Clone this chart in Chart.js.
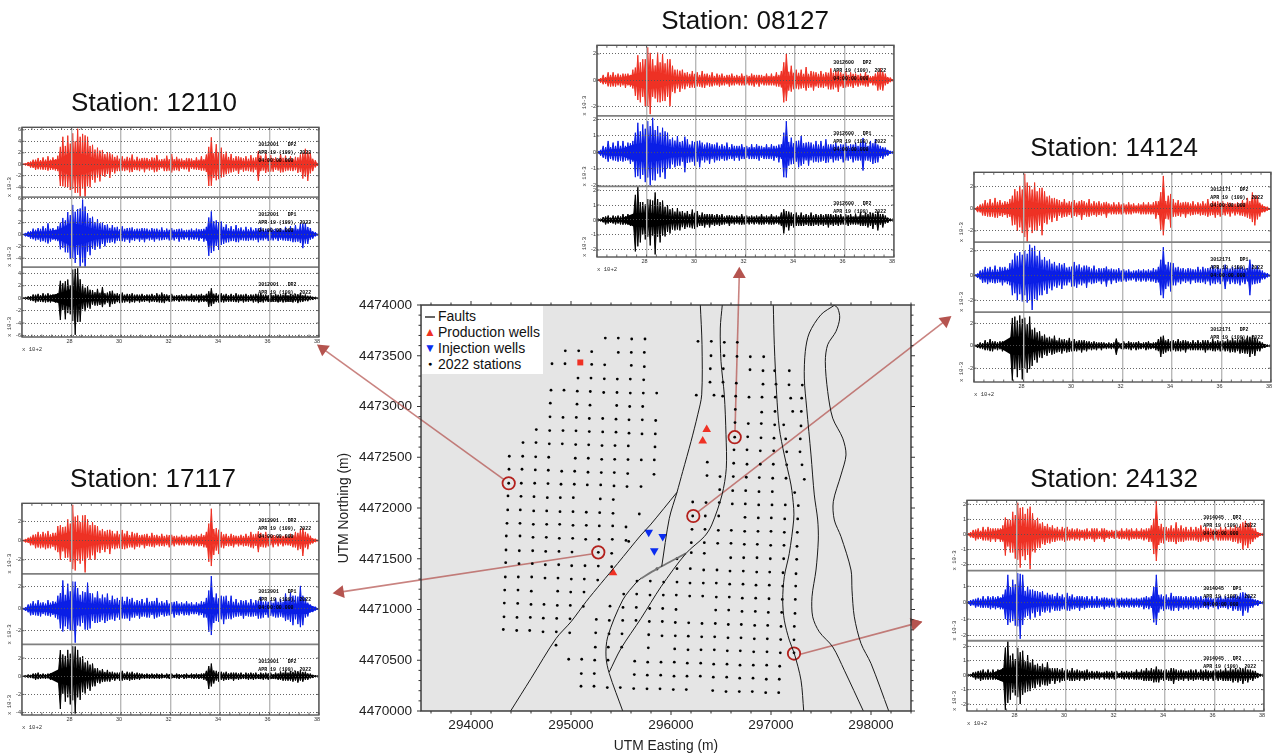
<!DOCTYPE html>
<html>
<head>
<meta charset="utf-8">
<script src="https://cdn.jsdelivr.net/npm/chart.js@4"></script>
<style>
  html, body { margin: 0; padding: 0; background: #fff; }
  #page { position: relative; width: 1277px; height: 754px; overflow: hidden; font-family: "Liberation Sans", sans-serif; color: #111; }
  canvas { position: absolute; }
  .title { position: absolute; font-size: 26px; white-space: nowrap; transform: translate(-50%, -50%); }
  #legend { position: absolute; left: 422px; top: 306px; width: 121px; height: 68px; background: #fff; font-size: 14px; line-height: 16px; }
  #legend div { position: absolute; left: 16px; white-space: nowrap; }
  #legend i { position: absolute; left: -16px; top: 0; width: 16px; height: 16px; font-style: normal; font-size: 12px; text-align: center; }
</style>
</head>
<body>
<div id="page">
  <canvas id="map" width="1277" height="754" style="left:0;top:0;filter:blur(0.3px)"></canvas>
  <div id="legend"></div>
</div>
<script>
// ---- seismogram data (x 10-3), one row per 100 s
const sampleTimes = [
  26.05,26.15,26.25,26.35,26.45,26.55,26.65,26.75,26.85,26.95,
  27.05,27.15,27.25,27.35,27.45,27.55,27.65,27.75,27.85,27.95,
  28.05,28.15,28.25,28.35,28.45,28.55,28.65,28.75,28.85,28.95,
  29.05,29.15,29.25,29.35,29.45,29.55,29.65,29.75,29.85,29.95,
  30.05,30.15,30.25,30.35,30.45,30.55,30.65,30.75,30.85,30.95,
  31.05,31.15,31.25,31.35,31.45,31.55,31.65,31.75,31.85,31.95,
  32.05,32.15,32.25,32.35,32.45,32.55,32.65,32.75,32.85,32.95,
  33.05,33.15,33.25,33.35,33.45,33.55,33.65,33.75,33.85,33.95,
  34.05,34.15,34.25,34.35,34.45,34.55,34.65,34.75,34.85,34.95,
  35.05,35.15,35.25,35.35,35.45,35.55,35.65,35.75,35.85,35.95,
  36.05,36.15,36.25,36.35,36.45,36.55,36.65,36.75,36.85,36.95,
  37.05,37.15,37.25,37.35,37.45,37.55,37.65,37.75,37.85,37.95
];

const red12110 = [
  0.1,-0.2,0.4,-0.6,0.8,-1,1.1,-0.9,1.2,-1,
  1.4,-1,1.2,-1.1,1.5,-3.8,4.8,-4,5,-4.5,
  5.4,-5,6.2,-6,5.3,-6.3,4.8,-4,3.4,-3.2,
  2.9,-3,2.5,-2.2,2.1,-2.4,1.7,-1.6,1.5,-1.2,
  1.4,-1.2,1.3,-1.4,1.7,-1,1.3,-1.2,1.1,-1.4,
  1.1,-1.1,1.2,-1.4,1.6,-1,0.9,-1.2,1.5,-1.1,
  1.8,-1.1,1.3,-1.2,1,-0.9,1.1,-1.3,1,-0.9,
  1.2,-1,1.4,-1.1,1.7,-3.8,4.7,-2.4,3.5,-2.6,
  2.9,-2.2,2.2,-1.6,1.8,-1.3,1.4,-1.7,1.2,-1.3,
  1.4,-1.2,1.6,-1.4,1.2,-2.9,1.5,-1.1,1.9,-1.3,
  1.6,-1.3,1.2,-1.1,1.8,-1.4,1.5,-1.1,1.4,-1.2,
  1.3,-1.5,1.7,-2.5,2.7,-2.9,2,-1.2,0.7,-0.3
];
const blue12110 = [
  0.1,-0.3,0.5,-0.7,1,-1,1.1,-1.2,1.4,-1.3,
  1.9,-1.2,1.1,-1,1.4,-2.5,2.8,-3,3.8,-4.1,
  5,-4.8,4.3,-5.5,5.9,-5.9,3.6,-3.5,3,-2.6,
  2.6,-2.4,2,-2,1.7,-1.4,1.6,-1.5,1.3,-1.1,
  1.4,-1.2,1.1,-1.4,1.2,-1.1,1,-1.2,1.1,-1.3,
  1,-1,1.1,-1.2,1,-1,1.2,-0.9,1,-1,
  1.1,-1,0.9,-1.2,1,-0.9,0.8,-1,1,-0.9,
  1,-1.1,0.9,-1.2,1.3,-3.6,3.9,-2.8,2.4,-2.6,
  2.2,-1.6,1.7,-1.3,1.4,-1.1,1.6,-1.3,1.2,-1,
  1.3,-1.1,1.2,-1,1.1,-1.3,1.2,-1,1,-1.1,
  1.2,-1,1,-1.1,1.1,-1,1.3,-1.1,1.4,-1.3,
  1.6,-1.2,1.8,-2.3,1.9,-1.6,1.1,-0.7,0.4,-0.2
];
const black12110 = [
  0.1,-0.2,0.3,-0.4,0.6,-0.7,0.7,-0.6,0.8,-0.7,
  0.8,-0.7,0.6,-0.7,0.8,-3.5,2.4,-3.4,3,-2.6,
  4.6,-5.9,4.8,-3.8,2.2,-2.1,1.9,-1.7,1.3,-1.2,
  1.5,-1.1,1.8,-1,0.9,-1.4,1.2,-0.9,0.8,-0.8,
  0.9,-0.7,0.7,-0.8,0.8,-0.7,0.6,-0.7,0.7,-0.6,
  0.6,-0.7,0.7,-0.6,0.8,-0.7,0.9,-0.8,0.6,-0.6,
  0.7,-0.5,0.5,-0.6,0.6,-0.5,0.6,-0.5,0.7,-0.6,
  0.6,-0.7,0.7,-0.6,0.7,-1.4,1.6,-0.9,0.8,-0.7,
  0.8,-0.7,0.7,-0.6,0.7,-0.6,0.8,-0.7,0.6,-0.7,
  0.7,-0.6,0.6,-0.7,0.7,-0.8,0.8,-0.7,0.6,-0.6,
  0.8,-0.6,0.7,-0.7,0.6,-0.7,0.8,-0.6,0.7,-0.7,
  0.7,-0.8,0.8,-0.6,0.6,-0.5,0.4,-0.3,0.2,-0.1
];
const red08127 = [
  0.1,-0.2,0.4,-0.3,0.6,-0.5,0.6,-0.5,0.5,-0.5,
  0.5,-0.6,0.5,-0.5,0.8,-1.2,1.9,-1.7,1.6,-2,
  2.5,-2.6,1.6,-1.4,2.1,-1.7,2,-1.6,1.6,-2,
  1.1,-1,0.8,-0.9,0.8,-0.7,0.6,-0.6,0.7,-0.6,
  0.6,-0.5,0.7,-0.6,0.5,-0.5,0.6,-0.4,0.5,-0.5,
  0.5,-0.4,0.4,-0.5,0.5,-0.4,0.4,-0.4,0.5,-0.4,
  0.4,-0.4,0.5,-0.5,0.4,-0.5,0.4,-0.4,0.5,-0.4,
  0.5,-0.4,0.6,-0.5,0.7,-1.7,2,-0.8,1.1,-0.7,
  0.8,-0.7,0.8,-0.6,1,-0.6,0.7,-0.8,0.6,-0.6,
  0.7,-0.6,0.6,-0.7,0.9,-0.7,0.7,-0.9,0.6,-0.6,
  0.7,-0.5,0.6,-0.6,0.5,-0.5,0.5,-0.4,0.6,-0.5,
  0.3,-0.4,0.5,-0.8,0.9,-0.8,0.5,-0.3,0.2,-0.1
];
const blue08127 = [
  0.1,-0.2,0.4,-0.4,0.7,-0.4,0.6,-0.5,0.7,-0.5,
  0.7,-0.5,0.6,-0.7,0.7,-1.5,1.8,-1.6,1.7,-1.8,
  1.9,-2,2.1,-1.7,1.6,-1.5,1.5,-1.6,1.2,-1,
  0.9,-0.9,1,-0.8,0.7,-1.2,0.8,-0.6,0.7,-0.8,
  0.7,-0.9,0.6,-0.6,0.6,-0.7,0.5,-0.6,0.6,-0.5,
  0.5,-0.5,0.6,-0.4,0.5,-0.5,0.4,-0.5,0.5,-0.4,
  0.4,-0.4,0.5,-0.4,0.5,-0.5,0.4,-0.4,0.5,-0.4,
  0.5,-0.5,0.4,-0.6,0.5,-1.5,1.9,-0.8,0.9,-0.7,
  0.7,-0.9,1,-0.7,0.6,-0.8,0.6,-0.6,0.7,-0.6,
  0.7,-0.5,0.8,-0.6,0.5,-0.6,0.6,-0.5,0.5,-0.6,
  0.6,-0.5,0.5,-0.6,0.6,-0.5,0.6,-1.1,0.6,-0.5,
  0.7,-0.7,0.8,-0.6,0.4,-0.4,0.3,-0.2,0.1,-0.1
];
const black08127 = [
  0.1,-0.1,0.2,-0.3,0.3,-0.2,0.3,-0.3,0.3,-0.3,
  0.4,-0.3,0.4,-0.4,0.4,-2.1,2.2,-1.5,1.2,-1.3,
  1.4,-1.7,1.3,-2.3,1.4,-1.5,1.3,-1.1,1,-0.9,
  0.8,-0.7,0.8,-0.7,0.6,-0.6,0.6,-0.5,0.7,-0.6,
  0.6,-0.4,0.5,-0.5,0.4,-0.5,0.4,-0.4,0.4,-0.4,
  0.4,-0.3,0.3,-0.4,0.3,-0.3,0.3,-0.3,0.4,-0.3,
  0.3,-0.3,0.3,-0.3,0.3,-0.3,0.4,-0.3,0.3,-0.3,
  0.4,-0.3,0.3,-0.3,0.5,-0.9,0.6,-0.7,0.5,-0.5,
  0.5,-0.4,0.5,-0.4,0.4,-0.4,0.5,-0.4,0.4,-0.4,
  0.4,-0.4,0.4,-0.5,0.4,-0.4,0.4,-0.4,0.4,-0.3,
  0.4,-0.4,0.4,-0.3,0.4,-0.3,0.5,-0.4,0.5,-0.5,
  0.5,-0.6,0.4,-0.7,0.4,-0.5,0.3,-0.2,0.1,-0.1
];
const red14124 = [
  0.1,-0.3,0.4,-0.6,0.8,-0.7,0.9,-0.7,1,-0.8,
  0.8,-0.7,0.7,-0.8,0.9,-1.5,1.8,-2,2.1,-2.2,
  3.2,-3,2.1,-2.2,2.4,-2,1.9,-2.4,1.6,-1.4,
  1.2,-1.2,1,-1.1,0.8,-0.8,0.9,-0.7,0.7,-0.8,
  0.8,-0.7,0.7,-1,0.7,-0.7,0.9,-0.6,0.7,-0.7,
  0.7,-0.6,0.6,-0.8,0.5,-0.5,0.6,-0.5,0.6,-0.5,
  0.5,-0.5,0.6,-0.5,0.5,-0.4,0.5,-0.5,0.6,-0.5,
  0.6,-0.5,0.6,-0.9,0.7,-1.9,3,-0.9,1.2,-1.7,
  0.9,-0.7,0.8,-0.7,0.6,-0.8,0.6,-0.6,0.7,-0.5,
  0.6,-0.6,0.7,-0.6,0.9,-0.6,0.7,-0.8,0.7,-0.7,
  0.7,-0.6,0.6,-0.7,0.5,-0.6,0.6,-0.6,0.8,-0.7,
  1,-0.9,1.5,-1.5,1.2,-0.7,0.4,-0.3,0.2,-0.1
];
const blue14124 = [
  0.1,-0.2,0.4,-0.6,0.7,-0.7,0.7,-0.6,0.8,-0.6,
  0.7,-0.8,0.7,-0.7,1,-1.6,1.8,-2,1.9,-2.1,
  2,-2.2,2.5,-2.8,2.4,-2,2,-1.6,1.5,-1.5,
  1.3,-1.2,1.1,-1,1,-1.1,1,-0.8,0.7,-0.9,
  1.1,-1,0.9,-0.8,0.8,-1,0.7,-0.7,0.8,-0.6,
  0.6,-0.7,0.6,-0.9,0.5,-0.7,0.5,-0.6,0.6,-0.5,
  0.5,-0.5,0.5,-0.4,0.4,-0.5,0.5,-0.5,0.5,-0.5,
  0.5,-0.5,0.6,-0.6,0.7,-1.6,2.3,-1.1,1.1,-1.3,
  1,-0.8,0.7,-0.7,0.6,-0.6,0.6,-0.7,0.5,-0.6,
  0.7,-0.6,0.7,-0.7,0.6,-0.8,0.8,-0.7,0.7,-0.7,
  0.6,-1.1,0.6,-0.7,0.7,-0.7,0.8,-0.8,0.7,-0.7,
  0.6,-1.6,0.9,-0.7,0.8,-0.6,0.4,-0.3,0.2,-0.1
];
const black14124 = [
  0.1,-0.2,0.3,-0.3,0.5,-0.4,0.6,-0.5,0.4,-0.4,
  0.4,-0.5,0.4,-0.4,0.4,-3.1,2.6,-2.8,2.7,-3,
  2.5,-2.4,2.6,-1.8,1.6,-1.5,1.3,-1.1,1,-0.9,
  0.8,-0.8,0.9,-0.6,0.7,-0.7,0.6,-0.6,0.7,-0.5,
  0.6,-0.5,0.5,-0.6,0.5,-0.5,0.4,-0.4,0.4,-0.4,
  0.3,-0.4,0.3,-0.3,0.3,-0.3,0.3,-0.8,0.3,-0.3,
  0.4,-0.3,0.4,-0.4,0.3,-0.4,0.4,-0.3,0.3,-0.4,
  0.4,-0.3,0.3,-0.4,0.6,-1,0.9,-0.6,0.6,-0.5,
  0.5,-0.5,0.6,-0.5,0.5,-0.6,0.4,-0.4,0.5,-0.4,
  0.5,-0.4,0.5,-0.6,0.5,-0.4,0.6,-0.5,0.5,-0.5,
  0.5,-0.5,0.6,-0.6,0.7,-0.6,0.6,-0.7,0.8,-0.7,
  0.9,-1,0.9,-0.9,0.6,-0.5,0.3,-0.2,0.1,-0.1
];
const red17117 = [
  0.1,-0.2,0.3,-0.5,0.6,-0.8,0.9,-0.8,0.9,-0.9,
  1,-0.8,0.8,-1,1.5,-2,1.4,-1.8,2.2,-2.2,
  3.7,-3.1,2.6,-2.4,2.6,-3.3,2.2,-2,1.9,-2,
  1.5,-1.3,1.2,-1.2,1.1,-1.4,1,-0.9,1,-0.8,
  1.1,-0.9,1,-0.7,0.9,-0.9,0.8,-0.7,0.6,-0.8,
  0.7,-0.6,0.8,-0.7,0.6,-0.6,0.7,-0.6,0.6,-0.7,
  0.6,-0.6,0.5,-0.5,0.6,-0.5,0.5,-0.5,0.6,-0.6,
  0.6,-0.6,0.7,-0.7,0.9,-2.2,3.3,-1.5,1.3,-1.4,
  0.9,-0.8,0.7,-0.6,0.7,-0.7,0.5,-0.6,0.6,-0.6,
  0.7,-0.6,0.9,-0.8,0.7,-1.2,0.8,-0.7,0.9,-0.6,
  0.6,-0.7,0.5,-0.6,0.5,-0.6,0.6,-0.5,0.7,-0.7,
  0.9,-1,1.1,-1.6,0.9,-0.9,0.5,-0.3,0.2,-0.1
];
const blue17117 = [
  0.1,-0.2,0.4,-0.6,0.7,-0.6,0.8,-0.7,0.6,-0.6,
  0.8,-0.7,0.7,-0.8,1.2,-1.8,2.6,-1.6,2.3,-2,
  2.5,-3.1,1.9,-1.6,1.6,-1.9,2.4,-1.8,1.4,-1.3,
  1.6,-1.2,1.3,-1.3,1.4,-1,1.2,-1.1,1,-1,
  1.1,-0.9,1.1,-1.1,1,-0.8,0.8,-0.9,0.9,-0.7,
  1,-0.8,0.7,-0.9,1,-0.7,0.7,-0.7,0.8,-0.6,
  0.6,-0.8,0.7,-0.6,0.6,-0.6,0.7,-0.6,0.6,-0.5,
  0.6,-0.6,0.7,-0.8,1,-2.1,3,-1.3,1.4,-1.2,
  1.2,-1.4,1.2,-0.9,1.2,-0.8,0.9,-0.7,0.8,-0.9,
  0.8,-0.7,0.9,-0.7,0.8,-0.9,1.1,-0.8,0.7,-0.8,
  0.8,-0.7,1,-0.8,0.9,-0.8,1.4,-1,1.5,-1.5,
  1.2,-1.4,2.1,-1.5,1,-0.7,0.4,-0.3,0.2,-0.1
];
const black17117 = [
  0,-0.1,0.2,-0.2,0.3,-0.4,0.4,-0.3,0.3,-0.3,
  0.3,-0.4,0.3,-0.3,0.4,-3.6,2.4,-2.8,2.9,-3.1,
  3.3,-4.1,2.9,-2.6,2.2,-1.9,1.7,-1.6,1.4,-1.1,
  0.9,-0.8,0.8,-0.6,0.7,-0.6,0.5,-0.5,0.4,-0.5,
  0.6,-0.4,0.5,-0.5,0.5,-0.4,0.4,-0.4,0.3,-0.3,
  0.3,-0.3,0.3,-0.3,0.3,-0.3,0.3,-0.2,0.3,-0.3,
  0.3,-0.2,0.3,-0.3,0.2,-0.3,0.3,-0.2,0.3,-0.3,
  0.3,-0.3,0.3,-0.4,0.6,-1.4,1.4,-0.8,0.6,-0.6,
  0.5,-0.5,0.5,-0.4,0.4,-0.5,0.4,-0.4,0.4,-0.3,
  0.4,-0.4,0.4,-0.4,0.4,-0.3,0.4,-0.4,0.4,-0.4,
  0.4,-0.3,0.4,-0.4,0.5,-0.5,0.6,-0.5,0.6,-0.6,
  0.6,-0.7,0.6,-0.6,0.5,-0.4,0.3,-0.2,0.1,-0.1
];
const red24132 = [
  0.1,-0.2,0.3,-0.4,0.4,-0.3,0.5,-0.4,0.5,-0.5,
  0.4,-0.5,0.4,-0.5,0.6,-1.4,1,-1.2,1.5,-1.6,
  2.1,-2.2,1.8,-1.7,1.7,-2.3,1.4,-1.2,1.1,-0.9,
  0.8,-0.7,0.7,-0.6,0.6,-0.5,0.5,-0.4,0.5,-0.5,
  0.5,-0.4,0.4,-0.4,0.4,-0.4,0.3,-0.4,0.4,-0.3,
  0.4,-0.5,0.4,-0.3,0.4,-0.5,0.3,-0.3,0.3,-0.3,
  0.3,-0.3,0.4,-0.3,0.4,-0.4,0.4,-0.3,0.4,-0.3,
  0.4,-0.4,0.4,-0.5,0.6,-1.3,2.2,-0.7,0.7,-0.6,
  0.5,-0.5,0.6,-0.5,0.8,-0.5,0.6,-0.5,0.5,-0.4,
  0.5,-0.4,0.5,-0.5,0.6,-0.4,0.5,-0.5,0.4,-0.4,
  0.4,-0.4,0.5,-0.4,0.5,-0.4,0.5,-0.5,0.6,-0.6,
  0.7,-1,0.9,-0.9,0.8,-0.5,0.4,-0.2,0.1,-0.1
];
const blue24132 = [
  0.1,-0.2,0.2,-0.3,0.3,-0.3,0.4,-0.3,0.4,-0.4,
  0.4,-0.4,0.4,-0.4,0.5,-1,1.7,-1.2,1.4,-1.4,
  1.8,-2.2,1.7,-0.9,1,-1,0.8,-0.9,0.7,-0.8,
  0.7,-0.6,0.6,-0.6,0.5,-0.5,0.6,-0.5,0.5,-0.4,
  0.6,-0.5,0.5,-0.4,0.4,-0.5,0.4,-0.4,0.4,-0.3,
  0.4,-0.3,0.4,-0.3,0.3,-0.4,0.3,-0.3,0.3,-0.3,
  0.3,-0.3,0.3,-0.3,0.3,-0.3,0.3,-0.3,0.3,-0.3,
  0.3,-0.4,0.4,-0.4,0.4,-1.2,1.7,-0.6,0.5,-0.5,
  0.5,-0.4,0.6,-0.5,0.4,-0.5,0.4,-0.4,0.4,-0.4,
  0.4,-0.4,0.4,-0.4,0.4,-0.3,0.4,-0.4,0.3,-0.3,
  0.3,-0.4,0.4,-0.3,0.4,-0.4,0.4,-0.5,0.5,-0.5,
  0.6,-0.8,0.6,-0.6,0.4,-0.3,0.2,-0.2,0.1,-0.1
];
const black24132 = [
  0.1,-0.1,0.2,-0.3,0.3,-0.4,0.4,-0.3,0.4,-0.3,
  0.4,-0.3,0.4,-0.4,0.5,-2.4,2.4,-1.7,1.5,-1.4,
  1.9,-2,1.7,-1.2,1.4,-1.1,1.1,-0.9,0.8,-0.8,
  0.8,-0.7,0.9,-0.6,0.5,-0.6,0.5,-0.5,0.5,-0.4,
  0.4,-0.4,0.5,-0.4,0.4,-0.4,0.3,-0.4,0.4,-0.3,
  0.3,-0.3,0.3,-0.3,0.2,-0.3,0.3,-0.3,0.3,-0.3,
  0.3,-0.2,0.3,-0.3,0.3,-0.3,0.3,-0.3,0.4,-0.3,
  0.4,-0.4,0.5,-0.4,0.5,-0.5,0.6,-0.5,0.4,-0.4,
  0.4,-0.4,0.5,-0.6,0.4,-0.4,0.4,-0.4,0.3,-0.4,
  0.4,-0.4,0.4,-0.3,0.4,-0.4,0.4,-0.4,0.3,-0.4,
  0.4,-0.4,0.4,-0.4,0.5,-0.4,0.5,-0.5,0.5,-0.5,
  0.5,-0.6,0.5,-0.5,0.4,-0.4,0.3,-0.2,0.1,-0.1
];

// half width of the solid part of each record, read every 50 s
const coreTimes = [26,26.5,27,27.5,28,28.5,29,29.5,30,30.5,31,31.5,32,32.5,33,33.5,34,34.5,35,35.5,36,36.5,37,37.5,38];
const redCore12110 = [0,0.4,0.5,0.9,2.2,1.7,0.9,0.6,0.5,0.5,0.5,0.5,0.5,0.4,0.5,0.7,0.8,0.6,0.5,0.5,0.5,0.5,0.5,0.7,0];
const blueCore12110 = [0,0.5,0.5,0.9,2,1.5,0.8,0.6,0.5,0.5,0.5,0.4,0.4,0.4,0.4,0.7,0.7,0.5,0.5,0.5,0.5,0.5,0.6,0.7,0];
const blackCore12110 = [0,0.2,0.3,0.8,1.5,0.6,0.4,0.3,0.3,0.2,0.3,0.2,0.2,0.2,0.2,0.4,0.3,0.2,0.2,0.2,0.2,0.2,0.2,0.2,0];
const redCore08127 = [0,0.2,0.2,0.45,0.7,0.6,0.3,0.2,0.2,0.17,0.17,0.17,0.17,0.17,0.17,0.3,0.3,0.2,0.2,0.2,0.2,0.17,0.17,0.25,0];
const blueCore08127 = [0,0.2,0.22,0.5,0.6,0.5,0.3,0.25,0.22,0.2,0.17,0.17,0.17,0.17,0.17,0.3,0.3,0.22,0.2,0.2,0.2,0.2,0.2,0.22,0];
const blackCore08127 = [0,0.11,0.12,0.45,0.5,0.4,0.24,0.17,0.16,0.14,0.11,0.11,0.11,0.11,0.11,0.2,0.17,0.14,0.14,0.14,0.14,0.14,0.17,0.16,0];
const redCore14124 = [0,0.25,0.28,0.5,0.8,0.55,0.3,0.25,0.25,0.22,0.2,0.17,0.17,0.17,0.2,0.35,0.28,0.22,0.22,0.22,0.22,0.22,0.28,0.4,0];
const blueCore14124 = [0,0.25,0.28,0.5,0.75,0.6,0.36,0.28,0.28,0.25,0.2,0.17,0.17,0.17,0.17,0.35,0.28,0.2,0.22,0.25,0.22,0.25,0.25,0.28,0];
const blackCore14124 = [0,0.14,0.14,0.8,0.85,0.5,0.22,0.17,0.16,0.13,0.11,0.11,0.11,0.11,0.11,0.25,0.17,0.16,0.16,0.16,0.17,0.2,0.28,0.25,0];
const redCore17117 = [0,0.28,0.3,0.5,1,0.7,0.4,0.3,0.28,0.25,0.22,0.2,0.17,0.17,0.2,0.45,0.25,0.2,0.25,0.25,0.2,0.2,0.3,0.35,0];
const blueCore17117 = [0,0.25,0.28,0.55,0.85,0.55,0.45,0.36,0.34,0.28,0.25,0.25,0.21,0.2,0.22,0.5,0.4,0.28,0.28,0.28,0.28,0.3,0.48,0.48,0];
const blackCore17117 = [0,0.1,0.11,0.8,1.1,0.55,0.22,0.17,0.15,0.12,0.1,0.1,0.1,0.09,0.1,0.22,0.16,0.12,0.12,0.12,0.12,0.14,0.18,0.18,0];
const redCore24132 = [0,0.15,0.16,0.4,0.62,0.45,0.22,0.17,0.15,0.13,0.12,0.11,0.11,0.11,0.12,0.25,0.18,0.16,0.16,0.15,0.15,0.16,0.22,0.28,0];
const blueCore24132 = [0,0.11,0.13,0.34,0.54,0.31,0.2,0.16,0.15,0.12,0.11,0.1,0.1,0.1,0.11,0.2,0.17,0.13,0.12,0.11,0.11,0.12,0.17,0.2,0];
const blackCore24132 = [0,0.12,0.13,0.5,0.56,0.31,0.2,0.17,0.14,0.12,0.1,0.1,0.1,0.1,0.13,0.17,0.15,0.13,0.13,0.12,0.13,0.15,0.17,0.17,0];

const stationNames = ["12110", "08127", "14124", "17117", "24132"];
const sensorIds = ["3012001", "3012600", "3012171", "3013901", "3014045"];
const channelNames = ["DP2", "DP1", "DP2"];
const noteDate = "APR 19 (109), 2022";
const noteTime = "04:00:00.000";
const redTraces = [red12110, red08127, red14124, red17117, red24132];
const blueTraces = [blue12110, blue08127, blue14124, blue17117, blue24132];
const blackTraces = [black12110, black08127, black14124, black17117, black24132];
const redCores = [redCore12110, redCore08127, redCore14124, redCore17117, redCore24132];
const blueCores = [blueCore12110, blueCore08127, blueCore14124, blueCore17117, blueCore24132];
const blackCores = [blackCore12110, blackCore08127, blackCore14124, blackCore17117, blackCore24132];

// y limits and tick labels of each sub panel, red / blue / black
const redLimits = [[-5.75, 6.45], [-2.73, 2.66], [-3.03, 3.33], [-3.45, 3.86], [-2.39, 2.26]];
const blueLimits = [[-5.5, 6.3], [-2.06, 2.22], [-2.97, 2.7], [-3.26, 3.2], [-2.32, 1.96]];
const blackLimits = [[-6.25, 5], [-2.47, 2.24], [-3.23, 3], [-4.26, 3.5], [-2.48, 2.39]];
const redTicks = [[-4, -2, 0, 2, 4, 6], [-2, 0, 2], [-2, 0, 2], [-2, 0, 2], [-2, -1, 0, 1, 2]];
const blueTicks = [[-4, -2, 0, 2, 4, 6], [-2, -1, 0, 1, 2], [-2, 0, 2], [-2, 0, 2], [-2, -1, 0, 1]];
const blackTicks = [[-6, -4, -2, 0, 2, 4], [-2, -1, 0, 1, 2], [-2, 0, 2], [-4, -2, 0, 2], [-2, -1, 0, 1, 2]];
const timeTicks = [26, 28, 30, 32, 34, 36, 38];
const timeMinorTicks = [26.4, 26.8, 27.2, 27.6, 28.4, 28.8, 29.2, 29.6, 30.4, 30.8, 31.2, 31.6, 32.4, 32.8, 33.2, 33.6, 34.4, 34.8, 35.2, 35.6, 36.4, 36.8, 37.2, 37.6];

// ---- map data (UTM metres), one row of stations per line
const stationEast = [
  295343,295473,295607,295740,296270,296403,296533,296663,
  294943,295077,295207,295473,295603,295733,296400,296530,296660,296793,296927,
  294810,294940,295207,295337,295603,295733,296393,296523,296790,296920,297037,297183,
  295070,295200,295333,295463,295593,295727,296390,296520,296653,296920,297050,297180,297313,
  294800,294930,295063,295193,295327,295460,295593,295723,295857,296253,296430,296517,296647,296780,296910,297043,297197,297307,
  294793,295060,295190,295457,295587,295717,296643,296907,297040,297217,297303,
  294790,294920,295053,295183,295317,295450,295580,295713,295847,296640,296773,296903,297037,297127,297300,
  294653,294787,294920,295050,295183,295317,295450,295580,295710,295843,296637,296767,296900,297030,297147,297293,
  294520,294650,294783,294913,295047,295177,295310,295440,295573,295840,296630,296760,296893,297027,297157,297290,
  294383,294517,294647,294777,295043,295173,295307,295437,295570,295703,295833,296363,296627,296760,296893,297023,297157,297310,
  294380,294510,294643,294773,294907,295037,295170,295303,295433,295567,295830,296360,296490,296623,296753,296883,297017,297150,297333,
  294377,294503,294637,294770,294900,295033,295163,295297,295430,295560,295700,296487,296617,296747,296880,297013,297237,
  294370,294500,294630,294763,294893,295023,295293,295423,296217,296350,296483,296613,296743,296877,297010,297143,297273,
  294367,294493,294627,294757,294890,295020,295153,295287,295420,295683,296217,296343,296477,296740,296873,297003,297137,297267,
  294360,294490,294623,294757,294887,295020,295153,295283,295417,295550,296210,296340,296473,296603,296737,296870,297000,297133,297263,
  294353,294490,294620,294753,294883,295017,295147,295280,295413,295550,295577,296203,296333,296467,296600,296733,296863,296997,297130,297260,
  294350,294483,294617,294747,294880,295010,295273,295407,296060,296203,296333,296597,296727,296860,296993,297127,297257,
  294347,294480,294613,294743,294877,295007,295140,295273,295407,295860,296060,296193,296327,296460,296590,296723,296857,296987,297120,297250,
  294343,294473,294607,294740,294870,295003,295133,295267,295660,295793,295927,296060,296190,296323,296453,296587,296720,296850,296983,297117,297247,
  294337,294470,294603,294867,294997,295130,295527,295657,295790,295923,296053,296187,296317,296453,296583,296713,296847,296980,297113,297243,
  294333,294467,294600,294730,294863,294993,295123,295390,295520,295653,295787,295917,296050,296447,296577,296710,296843,296973,297107,297240,
  294330,294460,294593,294723,294857,294990,295253,295383,295517,295650,295783,295913,296043,296177,296310,296443,296573,296703,296837,296967,297100,297233,
  294323,294457,294587,294720,294853,294987,295247,295380,295510,295777,295910,296043,296173,296307,296437,296570,296700,296833,296963,297097,297230,
  294850,295243,295373,295507,295773,296037,296170,296300,296433,296563,296693,296827,296960,297093,297230,
  294977,295107,295237,295370,295637,295767,295900,296033,296163,296297,296427,296560,296690,296823,296957,297087,
  295103,295233,295633,295763,295897,296030,296160,296293,296423,296557,296687,296820,296953,297083,
  295100,295230,295363,295493,295627,295760,295890,296023,296153,296417,296550,296683,296813,296947,297077
];
const stationNorth = [
  4473674,4473674,4473665,4473665,4473642,4473642,4473632,4473632,
  4473549,4473549,4473540,4473533,4473533,4473533,4473500,4473500,4473493,4473490,4473490,
  4473421,4473421,4473415,4473411,4473405,4473392,4473372,4473372,4473362,4473352,4473352,4473352,
  4473280,4473280,4473273,4473270,4473270,4473263,4473240,4473240,4473230,4473220,4473220,4473214,4473211,
  4473161,4473161,4473151,4473148,4473138,4473138,4473132,4473132,4473132,4473112,4473112,4473102,4473102,4473092,4473092,4473092,4473082,4473082,
  4473033,4473023,4473013,4473010,4473000,4473000,4472971,4472944,4472951,4472951,4472951,
  4472898,4472892,4472892,4472882,4472882,4472875,4472869,4472869,4472862,4472842,4472832,4472832,4472819,4472819,4472809,
  4472773,4472763,4472763,4472760,4472753,4472750,4472747,4472737,4472730,4472730,4472698,4472701,4472691,4472688,4472681,4472681,
  4472645,4472645,4472632,4472632,4472625,4472622,4472615,4472615,4472612,4472602,4472573,4472573,4472563,4472563,4472553,4472553,
  4472510,4472510,4472504,4472500,4472490,4472490,4472480,4472480,4472477,4472474,4472474,4472451,4472441,4472431,4472431,4472431,4472425,4472425,
  4472382,4472382,4472375,4472372,4472362,4472362,4472352,4472349,4472349,4472339,4472332,4472319,4472310,4472310,4472303,4472300,4472293,4472293,4472283,
  4472244,4472244,4472244,4472241,4472234,4472234,4472227,4472227,4472217,4472211,4472211,4472181,4472171,4472171,4472161,4472161,4472152,
  4472119,4472115,4472112,4472102,4472102,4472102,4472089,4472083,4472059,4472053,4472053,4472040,4472040,4472030,4472030,4472030,4472023,
  4471981,4471981,4471971,4471971,4471964,4471964,4471958,4471954,4471948,4471941,4471921,4471921,4471921,4471908,4471902,4471902,4471892,4471892,
  4471849,4471849,4471839,4471839,4471839,4471829,4471829,4471823,4471823,4471813,4471790,4471790,4471780,4471780,4471770,4471770,4471770,4471760,4471760,
  4471724,4471724,4471711,4471711,4471701,4471701,4471691,4471691,4471691,4471681,4471671,4471658,4471658,4471652,4471652,4471642,4471642,4471632,4471632,4471622,
  4471586,4471579,4471579,4471572,4471572,4471566,4471563,4471553,4471500,4471560,4471553,4471510,4471510,4471510,4471500,4471500,4471494,
  4471461,4471451,4471451,4471441,4471441,4471431,4471431,4471428,4471421,4471399,4471402,4471402,4471389,4471389,4471379,4471379,4471369,4471369,4471362,4471352,
  4471320,4471320,4471320,4471310,4471310,4471300,4471300,4471290,4471280,4471280,4471270,4471270,4471260,4471260,4471260,4471250,4471250,4471240,4471240,4471231,4471231,
  4471191,4471191,4471181,4471181,4471172,4471172,4471152,4471152,4471142,4471142,4471142,4471132,4471132,4471122,4471122,4471112,4471112,4471106,4471099,4471099,
  4471063,4471060,4471050,4471050,4471040,4471040,4471030,4471033,4471020,4471020,4471010,4471010,4471000,4470994,4470994,4470981,4470981,4470971,4470971,4470961,
  4470928,4470922,4470922,4470915,4470912,4470908,4470902,4470892,4470892,4470892,4470882,4470882,4470872,4470869,4470862,4470862,4470852,4470852,4470843,4470843,4470833,4470833,
  4470803,4470793,4470793,4470780,4470780,4470770,4470770,4470760,4470760,4470751,4470741,4470741,4470737,4470731,4470731,4470721,4470721,4470711,4470711,4470704,4470701,
  4470649,4470629,4470629,4470629,4470622,4470612,4470603,4470603,4470603,4470593,4470593,4470583,4470583,4470573,4470573,
  4470510,4470510,4470501,4470501,4470491,4470481,4470481,4470481,4470471,4470471,4470461,4470461,4470451,4470451,4470451,4470441,
  4470369,4470369,4470359,4470353,4470353,4470343,4470343,4470343,4470333,4470333,4470323,4470323,4470313,4470313,
  4470244,4470244,4470231,4470231,4470221,4470218,4470218,4470211,4470211,4470201,4470191,4470191,4470191,4470181,4470181
];

const productionEast = [296357, 296317, 295420];
const productionNorth = [4472773, 4472661, 4471362];
const padEast = [295093];
const padNorth = [4473434];
const injectionEast = [295777, 295917, 295833];
const injectionNorth = [4471760, 4471718, 4471579];
const pickedEast = [294377, 296637, 296223, 295273, 297230];
const pickedNorth = [4472244, 4472698, 4471921, 4471563, 4470566];

const faultAEast = [294397,294600,294850,295000,295150,295300,295467,295700,295793,296060];
const faultANorth = [4470001,4470320,4470714,4470879,4471076,4471257,4471454,4471734,4471833,4472155];
const faultBEast = [296293,296310,296307,296267,296200,296117,296060,295983,295907];
const faultBNorth = [4474003,4473609,4473115,4472918,4472655,4472359,4472155,4471898,4471422];
const faultCEast = [296150,295850,295700];
const faultCNorth = [4471553,4471395,4471306];
const faultDEast = [296513,296493,296500,296533,296550,296553,296510,296407,296333,296150,295900,295700,295500,295383];
const faultDNorth = [4474003,4473773,4473444,4473115,4472721,4472392,4472129,4471833,4471718,4471553,4471224,4470912,4470616,4470385];
const faultEEast = [295700,295660,295517,295367,295350,295383,295517];
const faultENorth = [4471306,4471274,4471093,4470731,4470534,4470369,4470001];
const faultFEast = [297023,297033,297057,297083,297133,297200,297227,297227,297183,297133,297117,297133,297183,297233,297300,297327];
const faultFNorth = [4474003,4473609,4473115,4472786,4472523,4472227,4471997,4471882,4471553,4471323,4471093,4470895,4470698,4470566,4470303,4470001];
const faultGEast = [297633,297500,297383,297343,297333,297357,297400,297433,297467,297473,297450,297410,297417,297483,297617,297733,297923];
const faultGNorth = [4473997,4473905,4473724,4473543,4473280,4472984,4472523,4472129,4471882,4471685,4471389,4471126,4470928,4470780,4470632,4470402,4470001];
const faultHEast = [297633,297667,297687,297650,297567,297543,297567,297617,297717,297750,297700,297623,297633,297700,297800,297810,297833,297900,298000,298177];
const faultHNorth = [4473997,4473970,4473872,4473740,4473609,4473444,4473148,4472885,4472688,4472523,4472326,4472063,4471882,4471718,4471389,4471191,4470928,4470665,4470468,4470001];
const faultEastLists = [faultAEast, faultBEast, faultDEast, faultEEast, faultFEast, faultGEast, faultHEast];
const faultNorthLists = [faultANorth, faultBNorth, faultDNorth, faultENorth, faultFNorth, faultGNorth, faultHNorth];

// arrows from the picked station out to its record
const arrowStartEast = [294327, 296640, 296273, 295207, 297293];
const arrowStartNorth = [4472283, 4472760, 4471964, 4471546, 4470560];
const arrowTipEast = [292520, 296683, 298745, 292690, 298440];
const arrowTipNorth = [4473568, 4474302, 4473845, 4471171, 4470861];
const arrowAngles = [-54, 0, 52, -99, 76];

const eastingTicks = [294000, 295000, 296000, 297000, 298000];
const eastingMinorTicks = [293600,293800,294200,294400,294600,294800,295200,295400,295600,295800,296200,296400,296600,296800,297200,297400,297600,297800,298200,298400];
const northingTicks = [4470000, 4470500, 4471000, 4471500, 4472000, 4472500, 4473000, 4473500, 4474000];
const northingMinorStarts = [4470000, 4470500, 4471000, 4471500, 4472000, 4472500, 4473000, 4473500];
const legendLabels = ["Faults", "Production wells", "Injection wells", "2022 stations"];

// ---- layout
const panelLeft = [22, 597, 974, 22, 967];
const panelTop = [127, 45, 172, 503, 500];
const panelHeight = [210, 212, 210, 212, 211];
const titleX = [154, 745, 1114, 153, 1114];
const titleY = [102, 20, 147, 478, 478];
const PANEL_WIDTH = 297;

Chart.defaults.animation = false;
Chart.defaults.font.family = '"Liberation Sans", sans-serif';
Chart.defaults.plugins.legend.display = false;
Chart.defaults.plugins.tooltip.enabled = false;
Chart.defaults.events = [];

const zip = (xs, ys) => xs.map((x, i) => ({ x: x, y: ys[i] }));
const setTicks = (list) => (scale) => { scale.ticks = list.map((v) => ({ value: v })); };

// ---- map
const mapFrame = {
  id: "mapFrame",
  beforeDatasetsDraw(chart) {
    const { ctx, chartArea: a } = chart;
    ctx.save();
    ctx.fillStyle = "#e5e5e5";
    ctx.fillRect(a.left, a.top, a.width, a.height);
    ctx.restore();
  },
  afterDatasetsDraw(chart) {
    const { ctx, chartArea: a, scales } = chart;
    // arrow heads sit outside the plot area, the line controller skips those points
    const page = { left: 0, top: 0, right: chart.width, bottom: chart.height };
    chart.data.datasets.forEach((d, i) => {
      if (d.arrow) chart.getDatasetMeta(i).data[1].draw(ctx, page);
    });
    ctx.save();
    ctx.strokeStyle = "#333";
    ctx.lineWidth = 1.4;
    ctx.strokeRect(a.left, a.top, a.width, a.height);
    ctx.lineWidth = 1;
    const tickX = (v, len) => {
      const x = scales.x.getPixelForValue(v);
      ctx.beginPath();
      ctx.moveTo(x, a.top); ctx.lineTo(x, a.top - len);
      ctx.moveTo(x, a.bottom); ctx.lineTo(x, a.bottom + len);
      ctx.stroke();
    };
    const tickY = (v, len) => {
      const y = scales.y.getPixelForValue(v);
      ctx.beginPath();
      ctx.moveTo(a.left, y); ctx.lineTo(a.left - len, y);
      ctx.moveTo(a.right, y); ctx.lineTo(a.right + len, y);
      ctx.stroke();
    };
    eastingTicks.forEach((v) => tickX(v, 4));
    eastingMinorTicks.forEach((v) => tickX(v, 2.5));
    northingTicks.forEach((v) => tickY(v, 4));
    northingMinorStarts.forEach((v) => {
      [100, 200, 300, 400].forEach((step) => tickY(v + step, 2.5));
    });
    ctx.restore();
  }
};

const mapDatasets = [];
faultEastLists.forEach((east, i) => {
  mapDatasets.push({ data: zip(east, faultNorthLists[i]), showLine: true, tension: 0.3, borderColor: "#1a1a1a", borderWidth: 1, pointRadius: 0 });
});
mapDatasets.push({ data: zip(faultCEast, faultCNorth), showLine: true, tension: 0.2, borderColor: "#777", borderWidth: 1.8, pointRadius: 0 });
mapDatasets.push({ label: legendLabels[3], data: zip(stationEast, stationNorth), backgroundColor: "#000", borderWidth: 0, pointRadius: 1.4 });
mapDatasets.push({ label: legendLabels[1], data: zip(productionEast, productionNorth), pointStyle: "triangle", backgroundColor: "#ef3124", borderWidth: 0, pointRadius: 5 });
mapDatasets.push({ data: zip(padEast, padNorth), pointStyle: "rect", backgroundColor: "#ef3124", borderWidth: 0, pointRadius: 4.2 });
mapDatasets.push({ label: legendLabels[2], data: zip(injectionEast, injectionNorth), pointStyle: "triangle", rotation: 180, backgroundColor: "#0a2cf0", borderWidth: 0, pointRadius: 5 });
mapDatasets.push({ data: zip(pickedEast, pickedNorth), pointStyle: "circle", backgroundColor: "transparent", borderColor: "#b3201c", borderWidth: 1.8, pointRadius: 6.2 });
arrowTipEast.forEach((east, i) => {
  mapDatasets.push({
    arrow: true,
    data: [{ x: arrowStartEast[i], y: arrowStartNorth[i] }, { x: east, y: arrowTipNorth[i] }],
    showLine: true,
    clip: false,
    borderColor: "rgba(176,72,68,0.68)",
    borderWidth: 1.6,
    pointRadius: [0, 7.5],
    pointStyle: "triangle",
    rotation: [0, arrowAngles[i]],
    pointBackgroundColor: "#b5544f",
    pointBorderWidth: 0
  });
});

new Chart(document.getElementById("map"), {
  type: "scatter",
  data: { datasets: mapDatasets },
  plugins: [mapFrame],
  options: {
    responsive: false,
    layout: { padding: { left: 336, right: 366, top: 305, bottom: 0 } },
    scales: {
      x: {
        type: "linear", min: 293500, max: 298400,
        afterBuildTicks: setTicks(eastingTicks),
        afterFit: (s) => { s.height = 43; },
        grid: { display: false, drawTicks: false },
        border: { display: false },
        ticks: { autoSkip: false, maxRotation: 0, padding: 6, color: "#222", font: { size: 13.6 }, callback: (v) => String(v) },
        title: { display: true, text: "UTM Easting (m)", color: "#222", font: { size: 13.8 }, padding: 0 }
      },
      y: {
        type: "linear", min: 4470000, max: 4474000,
        afterBuildTicks: setTicks(northingTicks),
        afterFit: (s) => { s.width = 85; },
        grid: { display: false, drawTicks: false },
        border: { display: false },
        ticks: { autoSkip: false, padding: 9, color: "#222", font: { size: 13.6 }, callback: (v) => String(v) },
        title: { display: true, text: "UTM Northing (m)", color: "#222", font: { size: 13.8 }, padding: 0 }
      }
    }
  }
});

// html legend
const legendBox = document.getElementById("legend");
const legendMarks = [
  '<i style="top:8px;left:-13px;width:10px;height:1.5px;background:#666"></i>',
  '<i style="color:#ef3124">&#9650;</i>',
  '<i style="color:#0a2cf0">&#9660;</i>',
  '<i style="color:#000;font-size:7px">&#9679;</i>'
];
legendLabels.forEach((text, i) => {
  const row = document.createElement("div");
  row.style.top = 2 + i * 16 + "px";
  row.innerHTML = legendMarks[i] + text;
  legendBox.appendChild(row);
});

// ---- seismogram panels
const panelFrame = {
  id: "panelFrame",
  afterDraw(chart, args, opts) {
    const { ctx, chartArea: a, scales } = chart;
    ctx.save();
    // annotation block in each sub panel
    ctx.fillStyle = "#000";
    ctx.font = 'bold 4.9px "Liberation Mono", monospace';
    ["yRed", "yBlue", "yBlack"].forEach((id, i) => {
      const x = scales.x.getPixelForValue(35.55);
      const top = scales[id].top;
      ctx.fillText(opts.sensor + "   " + channelNames[i], x, top + 19);
      ctx.fillText(noteDate, x, top + 27);
      ctx.fillText(noteTime, x, top + 35);
    });
    // sub panel dividers
    ctx.strokeStyle = "#808080";
    ctx.lineWidth = 1.8;
    ["yRed", "yBlue"].forEach((id) => {
      ctx.beginPath();
      ctx.moveTo(a.left, scales[id].bottom);
      ctx.lineTo(a.right, scales[id].bottom);
      ctx.stroke();
    });
    // small ticks along the frame
    ctx.strokeStyle = "#444";
    ctx.lineWidth = 0.8;
    timeMinorTicks.concat(timeTicks).forEach((v) => {
      const x = scales.x.getPixelForValue(v);
      ctx.beginPath();
      ctx.moveTo(x, a.top); ctx.lineTo(x, a.top + 2.5);
      ctx.moveTo(x, a.bottom); ctx.lineTo(x, a.bottom - 2.5);
      ctx.stroke();
    });
    ["yRed", "yBlue", "yBlack"].forEach((id) => {
      scales[id].ticks.forEach((t) => {
        const y = scales[id].getPixelForValue(t.value);
        ctx.beginPath();
        ctx.moveTo(a.left, y); ctx.lineTo(a.left + 2.5, y);
        ctx.moveTo(a.right, y); ctx.lineTo(a.right - 2.5, y);
        ctx.stroke();
      });
    });
    ctx.strokeStyle = "#555";
    ctx.lineWidth = 1.4;
    ctx.strokeRect(a.left, a.top, a.width, a.height);
    ctx.restore();
  }
};

function amplitudeAxis(limits, ticks) {
  return {
    type: "linear",
    position: "left",
    stack: "traces",
    stackWeight: 1,
    min: limits[0],
    max: limits[1],
    afterBuildTicks: setTicks(ticks),
    afterFit: (s) => { s.width = 16; },
    grid: { color: "#555", lineWidth: 0.9, drawTicks: false, z: 1 },
    border: { display: false, dash: [1, 2] },
    ticks: { autoSkip: false, padding: 1, color: "#333", font: { size: 5.5 }, callback: (v) => String(v) },
    title: { display: true, text: "x 10-3", align: "start", color: "#333", font: { family: '"Liberation Mono", monospace', size: 5.6 }, padding: 0 }
  };
}

// one record: solid band from its half widths, the spikes, and the same
// spikes flipped so both sides of the zero line carry a peak in every column
function traceDatasets(values, core, axisId, colour) {
  const common = { yAxisID: axisId, pointRadius: 0, tension: 0 };
  const spikes = { ...common, fill: "origin", backgroundColor: colour, borderColor: colour, borderWidth: 1, borderJoinStyle: "round" };
  return [
    { ...common, data: zip(coreTimes, core), fill: "+1", backgroundColor: colour, borderWidth: 0 },
    { ...common, data: zip(coreTimes, core.map((v) => -v)), fill: false, borderWidth: 0 },
    { ...spikes, data: zip(sampleTimes, values.map((v) => -0.8 * v)) },
    { ...spikes, data: zip(sampleTimes, values) }
  ];
}

const page = document.getElementById("page");
stationNames.forEach((name, s) => {
  const title = document.createElement("div");
  title.className = "title";
  title.textContent = "Station: " + name;
  title.style.left = titleX[s] + "px";
  title.style.top = titleY[s] + "px";
  page.appendChild(title);

  const canvas = document.createElement("canvas");
  canvas.width = 16 + PANEL_WIDTH + 4;
  canvas.height = 4 + panelHeight[s] + 16;
  canvas.style.left = panelLeft[s] - 16 + "px";
  canvas.style.top = panelTop[s] - 4 + "px";
  canvas.style.filter = "blur(0.35px)";
  page.appendChild(canvas);

  new Chart(canvas, {
    type: "line",
    data: {
      datasets: [
        ...traceDatasets(redTraces[s], redCores[s], "yRed", "#ee3124"),
        ...traceDatasets(blueTraces[s], blueCores[s], "yBlue", "#0a1ee6"),
        ...traceDatasets(blackTraces[s], blackCores[s], "yBlack", "#000")
      ]
    },
    plugins: [panelFrame],
    options: {
      responsive: false,
      layout: { padding: { top: 4, right: 4 } },
      plugins: { panelFrame: { sensor: sensorIds[s] } },
      scales: {
        x: {
          type: "linear", min: 26, max: 38,
          afterBuildTicks: setTicks(timeTicks),
          afterFit: (a) => { a.height = 16; },
          grid: { color: "#b8b8b8", lineWidth: 1.4, drawTicks: false, z: 1 },
          border: { display: false },
          ticks: { autoSkip: false, maxRotation: 0, padding: 1, labelOffset: -2, color: "#333", font: { size: 5.5 }, callback: (v) => (v === 26 ? "" : String(v)) },
          title: { display: true, text: "x 10+2", align: "start", color: "#333", font: { family: '"Liberation Mono", monospace', size: 5.6 }, padding: 0 }
        },
        yBlack: amplitudeAxis(blackLimits[s], blackTicks[s]),
        yBlue: amplitudeAxis(blueLimits[s], blueTicks[s]),
        yRed: amplitudeAxis(redLimits[s], redTicks[s])
      }
    }
  });
});
</script>
</body>
</html>
